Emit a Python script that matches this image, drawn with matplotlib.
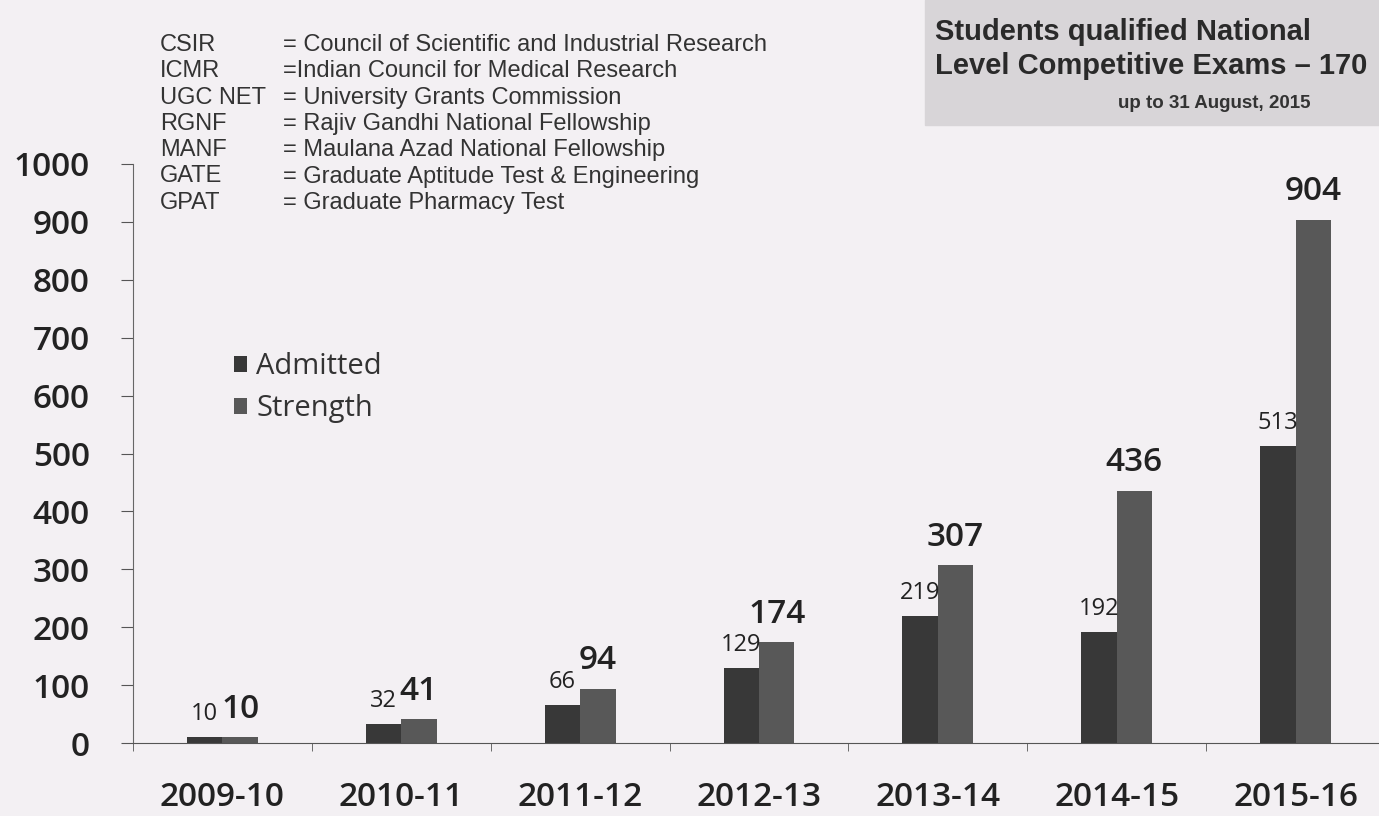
import numpy as np
import matplotlib.pyplot as plt
from matplotlib.patches import Rectangle

years = ['2009-10', '2010-11', '2011-12', '2012-13', '2013-14', '2014-15', '2015-16']
admitted = [10, 32, 66, 129, 219, 192, 513]
strength = [10, 41, 94, 174, 307, 436, 904]

abbr = ['CSIR', 'ICMR', 'UGC NET', 'RGNF', 'MANF', 'GATE', 'GPAT']
meaning = ['= Council of Scientific and Industrial Research',
           '=Indian Council for Medical Research',
           '= University Grants Commission',
           '= Rajiv Gandhi National Fellowship',
           '= Maulana Azad National Fellowship',
           '= Graduate Aptitude Test & Engineering',
           '= Graduate Pharmacy Test']

bg = '#f3f0f3'
W, H = 1379, 816
fig = plt.figure(figsize=(W / 100, H / 100), dpi=100, facecolor=bg)
ax = fig.add_axes([133 / W, 1 - 743 / H, 1252 / W, (743 - 164) / H], facecolor=bg)

x = np.arange(len(years))
bw = 0.198
ax.bar(x - bw / 2, admitted, bw, color='#383838', label='Admitted')
ax.bar(x + bw / 2, strength, bw, color='#585858', label='Strength')

for i in range(len(years)):
    ax.annotate(str(admitted[i]), (x[i] - bw / 2, admitted[i]), xytext=(0, 8),
                textcoords='offset points', ha='center', va='bottom',
                fontsize=17, family='Open Sans', color='#222222')
    ax.annotate(str(strength[i]), (x[i] + bw / 2, strength[i]), xytext=(0, 8),
                textcoords='offset points', ha='center', va='bottom',
                fontsize=24, family='Open Sans', fontweight='semibold', color='#222222')

ax.set_xlim(-0.5, 6.5)
ax.set_ylim(0, 1000)
ax.set_yticks(range(0, 1001, 100))
ax.set_xticks(x)
ax.set_xticklabels(years)
ax.set_xticks(np.arange(-0.5, 7, 1), minor=True)
ax.tick_params(axis='x', which='major', length=0, pad=27)
ax.tick_params(axis='x', which='minor', length=6, color='#555555')
ax.tick_params(axis='y', length=9, pad=22, color='#555555')
for lab in ax.get_xticklabels() + ax.get_yticklabels():
    lab.set_family('Open Sans')
    lab.set_fontsize(24)
    lab.set_fontweight('semibold')
    lab.set_color('#222222')
for s in ['top', 'right']:
    ax.spines[s].set_visible(False)
ax.spines['left'].set_color('#666666')
ax.spines['bottom'].set_color('#555555')

leg = ax.legend(loc='upper left', bbox_to_anchor=(0.06, 0.72), frameon=False,
                prop={'family': 'Open Sans', 'size': 21}, handlelength=0.45,
                handleheight=0.45, handletextpad=0.3, labelspacing=0.45)
for t in leg.get_texts():
    t.set_color('#333333')

# abbreviations block
for k in range(len(abbr)):
    yy = 1 - (45 + 26.3 * k) / H
    fig.text(160 / W, yy, abbr[k], fontsize=17, family='Liberation Sans', color='#333333', va='center')
    fig.text(283 / W, yy, meaning[k], fontsize=17, family='Liberation Sans', color='#333333', va='center')

# title box top right
fig.patches.append(Rectangle((925 / W, 1 - 125 / H), (W - 925) / W, 125 / H,
                             transform=fig.transFigure, color='#d8d5d8', zorder=0))
fig.text(935 / W, 1 - 32 / H, 'Students qualified National', fontsize=21, fontweight='bold',
         family='Liberation Sans', color='#2a2a2a', va='center')
fig.text(935 / W, 1 - 66 / H, 'Level Competitive Exams \u2013 170', fontsize=21, fontweight='bold',
         family='Liberation Sans', color='#2a2a2a', va='center')
fig.text(1310 / W, 1 - 103 / H, 'up to 31 August, 2015', fontsize=13.5, fontweight='bold',
         family='Liberation Sans', color='#333333', va='center', ha='right')

fig.savefig('out.png', dpi=100, facecolor=bg)
